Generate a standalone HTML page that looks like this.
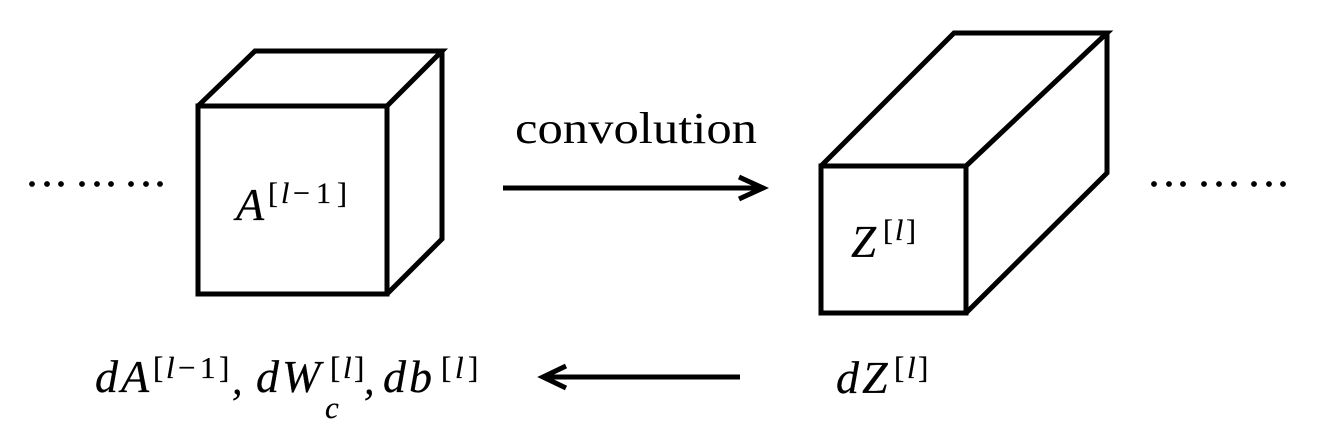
<!DOCTYPE html>
<html>
<head>
<meta charset="utf-8">
<style>
  html, body { margin: 0; padding: 0; background: #fff; }
  svg { display: block; }
  text { font-family: "Liberation Serif", "DejaVu Serif", serif; fill: #000; }
  .it { font-style: italic; }
  .m { stroke: #000; stroke-width: 0.25; }
</style>
</head>
<body>
<svg width="1324" height="448" viewBox="0 0 1324 448" xmlns="http://www.w3.org/2000/svg">
  <rect x="0" y="0" width="1324" height="448" fill="#fff"/>

  <!-- Cube A -->
  <g fill="none" stroke="#000" stroke-width="5" stroke-linejoin="miter">
    <rect x="198" y="106" width="189" height="188"/>
    <polyline points="198,106 255,51 442,51 387,106"/>
    <polyline points="442,51 442,239 387,294"/>
  </g>

  <!-- Cuboid Z -->
  <g fill="none" stroke="#000" stroke-width="5" stroke-linejoin="miter">
    <rect x="821" y="166" width="145" height="147"/>
    <polyline points="821,166 954,33 1107,33 966,166"/>
    <polyline points="1107,33 1107,173 966,313"/>
  </g>

  <!-- Arrows -->
  <g fill="none" stroke="#000" stroke-width="5" stroke-linejoin="miter" stroke-linecap="butt">
    <line x1="503" y1="188" x2="760" y2="188"/>
    <polyline points="739,177 763,188 739,199"/>
    <line x1="546" y1="377" x2="740" y2="377"/>
    <polyline points="566,366 543,377 566,388"/>
  </g>

  <!-- Dots left -->
  <g fill="#000">
    <circle cx="32" cy="184" r="2.9"/>
    <circle cx="47" cy="184" r="2.9"/>
    <circle cx="61" cy="184" r="2.9"/>
    <circle cx="82" cy="184" r="2.9"/>
    <circle cx="97" cy="184" r="2.9"/>
    <circle cx="111" cy="184" r="2.9"/>
    <circle cx="131" cy="184" r="2.9"/>
    <circle cx="146" cy="184" r="2.9"/>
    <circle cx="160" cy="184" r="2.9"/>
  </g>
  <!-- Dots right -->
  <g fill="#000">
    <circle cx="1154" cy="184" r="2.9"/>
    <circle cx="1169" cy="184" r="2.9"/>
    <circle cx="1183" cy="184" r="2.9"/>
    <circle cx="1204" cy="184" r="2.9"/>
    <circle cx="1219" cy="184" r="2.9"/>
    <circle cx="1234" cy="184" r="2.9"/>
    <circle cx="1254" cy="184" r="2.9"/>
    <circle cx="1269" cy="184" r="2.9"/>
    <circle cx="1283" cy="184" r="2.9"/>
  </g>

  <!-- convolution -->
  <text x="515" y="143" font-size="44" textLength="242" lengthAdjust="spacingAndGlyphs">convolution</text>

  <!-- A^[l-1] -->
  <text class="it m" x="236" y="220" font-size="46">A</text>
  <text class="m" y="203" font-size="30">
    <tspan x="268">[</tspan><tspan class="it" x="281">l</tspan><tspan x="293">−</tspan><tspan x="316">1</tspan><tspan x="337">]</tspan>
  </text>

  <!-- Z^[l] -->
  <text class="it m" x="851" y="257" font-size="45">Z</text>
  <text class="m" y="240" font-size="30">
    <tspan x="883">[</tspan><tspan class="it" x="895">l</tspan><tspan x="906">]</tspan>
  </text>

  <!-- bottom left: dA^[l-1], dW_c^[l], db^[l] -->
  <text class="it m" y="392" font-size="46"><tspan x="95">d</tspan><tspan x="121">A</tspan></text>
  <text class="m" y="378" font-size="31">
    <tspan x="153">[</tspan><tspan class="it" x="166">l</tspan><tspan x="178">−</tspan><tspan x="200">1</tspan><tspan x="219">]</tspan>
  </text>
  <text class="it m" x="232" y="394" font-size="42">,</text>
  <text class="it m" y="392" font-size="46"><tspan x="256">d</tspan><tspan x="282">W</tspan></text>
  <text class="it m" x="325" y="418" font-size="31">c</text>
  <text class="m" y="378" font-size="31">
    <tspan x="330">[</tspan><tspan class="it" x="343">l</tspan><tspan x="354">]</tspan>
  </text>
  <text class="it m" x="364" y="394" font-size="42">,</text>
  <text class="it m" y="392" font-size="46"><tspan x="383">d</tspan><tspan x="409">b</tspan></text>
  <text class="m" y="378" font-size="31">
    <tspan x="441">[</tspan><tspan class="it" x="455">l</tspan><tspan x="468">]</tspan>
  </text>

  <!-- dZ^[l] -->
  <text class="it m" y="393" font-size="46"><tspan x="836">d</tspan><tspan x="862">Z</tspan></text>
  <text class="m" y="378" font-size="31">
    <tspan x="894">[</tspan><tspan class="it" x="907">l</tspan><tspan x="918">]</tspan>
  </text>
</svg>
</body>
</html>
